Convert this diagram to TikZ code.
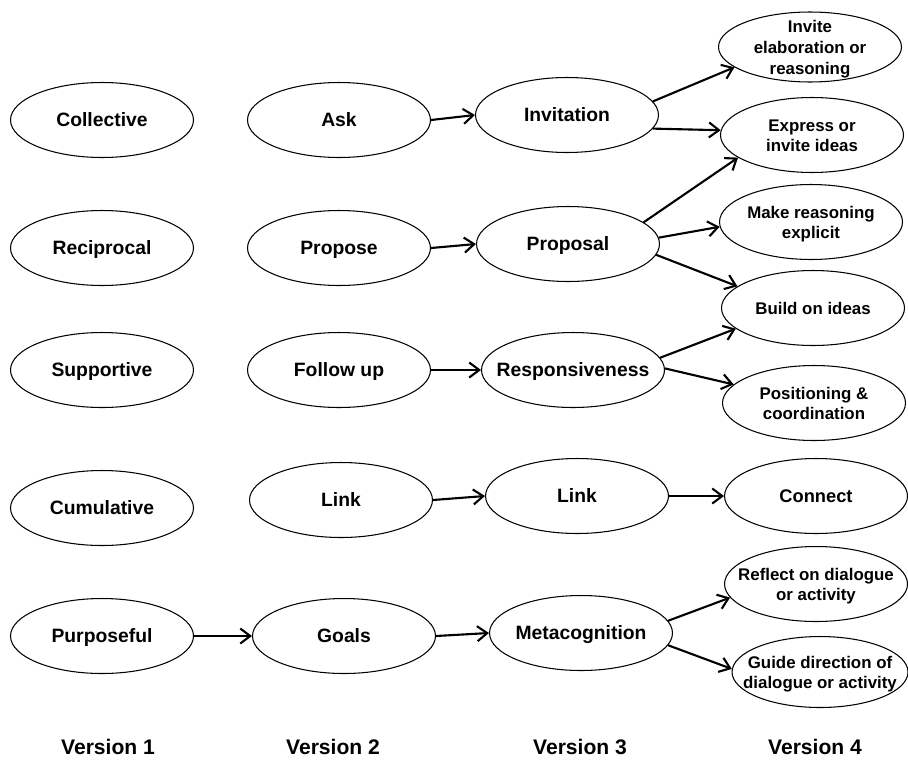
\documentclass[tikz,border=0pt]{standalone}
\usepackage{fontspec}
\setmainfont{Liberation Sans}
\usetikzlibrary{shapes.geometric,arrows.meta}
% text inside an oval takes no room, so every oval keeps the same size
\newcommand{\ovaltext}[1]{\makebox[0pt]{\smash{\raisebox{-4pt}{\begin{tabular}{@{}c@{}}#1\end{tabular}}}}}

\begin{document}
\begin{tikzpicture}[x=0.02cm, y=-0.02cm,
    oval/.style={draw, ellipse, line width=0.6pt, minimum width=3.66cm, minimum height=1.5cm,
                 inner sep=0pt, font=\fontsize{11}{11.5}\selectfont\bfseries},
    smalloval/.style={oval, font=\fontsize{9.6}{11.3}\selectfont\bfseries},
    flow/.style={-{Straight Barb[length=2mm,width=3mm]}, line width=1.2pt},
    version/.style={font=\fontsize{12}{14}\selectfont\bfseries}]
    \useasboundingbox (0,0) rectangle (908,761);
    % version 1
    \foreach \name/\x/\y/\lbl in {coll/102/120/Collective, reci/102/248/Reciprocal,
                                  supp/102/370/Supportive, cumu/102/508/Cumulative,
                                  purp/102/636/Purposeful}{
        \node[oval] (\name) at (\x,\y) {\ovaltext{\lbl}};
    }
    % version 2
    \foreach \name/\x/\y/\lbl in {ask/339/120/Ask, prop/339/248/Propose,
                                  foll/339/370/Follow up, link/341/500/Link,
                                  goal/344/636/Goals}{
        \node[oval] (\name) at (\x,\y) {\ovaltext{\lbl}};
    }
    % version 3
    \foreach \name/\x/\y/\lbl in {invi/567/115/Invitation, prps/568/244/Proposal,
                                  resp/573/370/Responsiveness, lnk3/577/496/Link,
                                  meta/581/633/Metacognition}{
        \node[oval] (\name) at (\x,\y) {\ovaltext{\lbl}};
    }
    % version 4
    \node[smalloval, minimum height=1.4cm, font=\fontsize{9.6}{12}\selectfont\bfseries] (elab) at (810,47) {\ovaltext{Invite\\elaboration or\\reasoning}};
    \node[smalloval] (expr) at (812,135) {\ovaltext{Express or\\invite ideas}};
    \node[smalloval] (expl) at (811,222) {\ovaltext{Make reasoning\\explicit}};
    \node[smalloval] (bild) at (813,308) {\ovaltext{Build on ideas}};
    \node[smalloval] (posi) at (814,403) {\ovaltext{Positioning \&\\coordination}};
    \node[oval, font=\fontsize{10.4}{12}\selectfont\bfseries] (conn) at (816,496) {\ovaltext{Connect}};
    \node[smalloval] (refl) at (816,584) {\ovaltext{Reflect on dialogue\\or activity}};
    \node[smalloval, minimum width=3.52cm, minimum height=1.42cm] (guid) at (820,672) {\ovaltext{Guide direction of\\dialogue or activity}};

    \draw[flow] (ask.east) -- (invi.west);
    \draw[flow] (prop.east) -- (prps.west);
    \draw[flow] (foll.east) -- (resp.west);
    \draw[flow] (link.east) -- (lnk3.west);
    \draw[flow] (lnk3.east) -- (conn.west);
    \draw[flow] (purp.east) -- (goal.west);
    \draw[flow] (goal.east) -- (meta.west);
    \draw[flow] (invi.9) -- (elab.195);
    \draw[flow] (invi.-9) -- (expr.177);
    \draw[flow] (prps.16) -- (expr.197);
    \draw[flow] (prps.4) -- (expl.183);
    \draw[flow] (prps.-7) -- (bild.164);
    \draw[flow] (resp.8) -- (bild.195);
    \draw[flow] (resp.1) -- (posi.167);
    \draw[flow] (meta.8) -- (refl.189);
    \draw[flow] (meta.-8) -- (guid.178);

    \foreach \x/\n in {108/1, 333/2, 580/3, 815/4}
        \node[version] (ver\n) at (\x,747) {Version \n};
\end{tikzpicture}
\end{document}
